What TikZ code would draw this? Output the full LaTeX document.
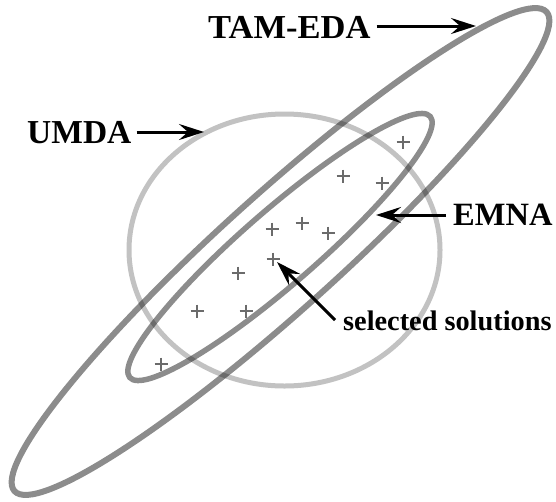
\documentclass[tikz,border=0pt]{standalone}
\usepackage{fontspec}
\setmainfont{Liberation Serif}
\usetikzlibrary{arrows.meta}
\begin{document}
\begin{tikzpicture}[x=1pt,y=-1pt,
  tamring/.style={line width=6pt, draw=black, draw opacity=0.45},
  emnaring/.style={line width=5.5pt, draw=black, draw opacity=0.45},
  umdaring/.style={line width=5pt, draw=black, draw opacity=0.24},
  plusmark/.style={line width=1.1pt, draw=black!58},
  pointer/.style={line width=3pt, -{Stealth[length=25pt, width=16pt, inset=9pt]}},
  biglabel/.style={font=\fontsize{33.5}{38}\selectfont\bfseries, inner sep=0pt},
  smalllabel/.style={font=\fontsize{28.3}{32}\selectfont\bfseries, inner sep=0pt}]
\useasboundingbox (0,0) rectangle (556,501);

% the three model contours
\draw[tamring, rotate around={42:(280.5,251.5)}]
  (280.5,251.5) ellipse [x radius=358pt, y radius=58pt];
\draw[umdaring] (284.5,250) ellipse [x radius=155.5pt, y radius=136pt];
\draw[emnaring, rotate around={41:(280,247)}]
  (280,247) ellipse [x radius=199pt, y radius=37pt];

% selected solutions
\foreach \px/\py [count=\k] in {403/142, 343/176, 382/183, 272/229, 302/223,
    328/233, 273/259, 238/273, 197/311, 246/311, 161/364} {
  \coordinate (s\k) at (\px,\py);
  \draw[plusmark] (s\k) +(-6.5,0) -- +(6.5,0) (s\k) +(0,-6.5) -- +(0,6.5);
}

% labels
\node[biglabel, anchor=base west, xscale=1.03] (tam) at (208,38) {TAM-EDA};
\node[biglabel, anchor=base west] (umda) at (27,143) {UMDA};
\node[biglabel, anchor=base west, font=\fontsize{32.5}{38}\selectfont\bfseries] (emna) at (453,225) {EMNA};
\node[smalllabel, anchor=base west] (sel) at (343,330) {selected solutions};

% arrow ends on the contours
\coordinate (tamtip) at (476,26);
\coordinate (umdatip) at (204,132);
\coordinate (emnatip) at (376,215);
\coordinate (seltail) at (335,320);
\coordinate (seltip) at (277,262);

\draw[pointer] (tam.east |- tamtip) ++(6,0) -- (tamtip);
\draw[pointer] (umda.east |- umdatip) ++(5,0) -- (umdatip);
\draw[pointer] (emna.west |- emnatip) ++(-7,0) -- (emnatip);
\draw[pointer] (seltail) -- (seltip);
\end{tikzpicture}
\end{document}
